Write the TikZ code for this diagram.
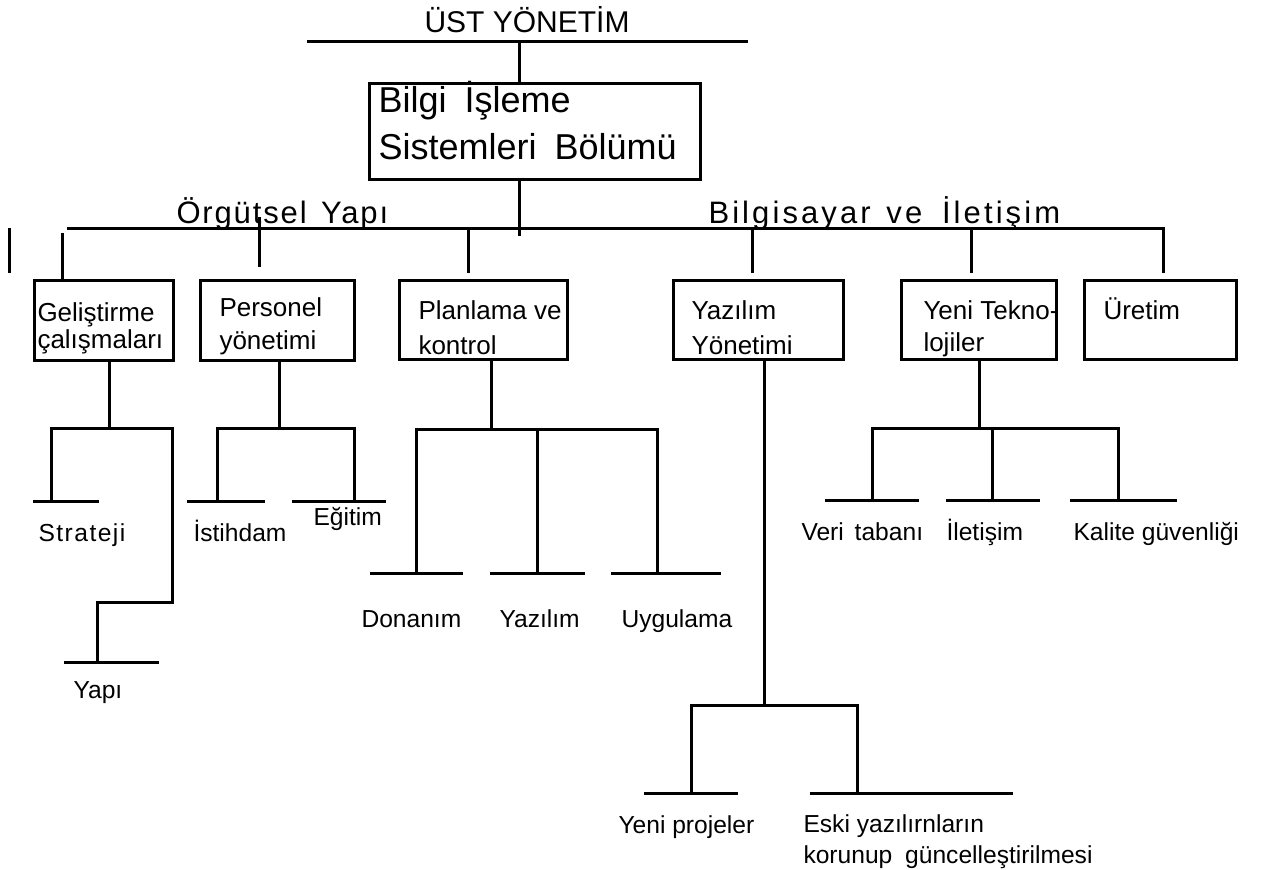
\documentclass[tikz,border=0pt]{standalone}
\usepackage{fontspec}
\setmainfont{Liberation Sans}
\newfontfamily\orgfont[LetterSpace=6]{Liberation Sans}
\newfontfamily\bilfont[LetterSpace=10]{Liberation Sans}
\usetikzlibrary{calc}
\begin{document}
\begin{tikzpicture}[x=0.5pt,y=-0.5pt,line width=1.5pt,
  unit/.style={draw, line width=1.5pt, inner sep=0pt, anchor=north west},
  boxtxt/.style={anchor=base west, inner sep=0pt, font=\fontsize{13}{15}\selectfont},
  leaftxt/.style={anchor=base west, inner sep=0pt, font=\fontsize{12.3}{15}\selectfont},
  head/.style={anchor=base west, inner sep=0pt},
  bigtxt/.style={anchor=base west, inner sep=0pt, font=\fontsize{18}{22}\selectfont},
]
\useasboundingbox (0,0) rectangle (1267,870);

% ---- top management and the department box
\node[anchor=base west, inner sep=0pt, font=\fontsize{15}{18}\selectfont] (ust) at (423,33) {ÜST YÖNETİM};
\coordinate (topL) at (307,42);
\coordinate (topR) at (748,42);
\coordinate (topM) at (519,42);
\draw (topL) -- (topR);

\node[unit, minimum width=165.5pt, minimum height=48pt] (bis) at (368,82) {};
\node[bigtxt] (bis1) at (377,113) {Bilgi\hspace{4pt} İşleme};
\node[bigtxt] (bis2) at (377,160) {Sistemleri\hspace{4pt} Bölümü};
\draw (topM) -- (bis.north -| topM);
\coordinate (hub) at (519,236);
\draw (bis.south -| hub) -- (hub);

% ---- main distribution bar with its two headings
\coordinate (barL) at (67,229);
\coordinate (barR) at (1163,229);
\node[head, font=\orgfont\fontsize{15.5}{18}\selectfont] (org) at (175,224) {Örgütsel\hspace{2pt} Yapı};
\node[head, font=\bilfont\fontsize{15.5}{18}\selectfont] (bil) at (707,224) {Bilgisayar\hspace{2pt} ve\hspace{4pt} İletişim};

\coordinate (mk1) at (9,228);
\coordinate (mk2) at (9,273);
\draw (mk1) -- (mk2);

% ---- second level units
\node[unit, minimum width=69.5pt, minimum height=40pt] (gel) at (33,279) {};
\node[unit, minimum width=77pt, minimum height=40pt] (per) at (199,279) {};
\node[unit, minimum width=84pt, minimum height=39.5pt] (pla) at (398,279) {};
\node[unit, minimum width=85pt, minimum height=39.5pt] (yaz) at (672,279) {};
\node[unit, minimum width=77.5pt, minimum height=39.5pt] (yen) at (900,279) {};
\node[unit, minimum width=76pt, minimum height=39.5pt] (ure) at (1083,279) {};

\node[boxtxt] (gel1) at (36,322) {Geliştirme};
\node[boxtxt] (gel2) at (36,349) {çalışmaları};
\node[boxtxt] (per1) at (218,317) {Personel};
\node[boxtxt] (per2) at (218,350) {yönetimi};
\node[boxtxt] (pla1) at (417,320) {Planlama ve};
\node[boxtxt] (pla2) at (417,355) {kontrol};
\node[boxtxt] (yaz1) at (690,320) {Yazılım};
\node[boxtxt] (yaz2) at (690,355) {Yönetimi};
\node[boxtxt] (yen1) at (922,320) {Yeni Tekno-};
\node[boxtxt] (yen2) at (922,352) {lojiler};
\node[boxtxt] (ure1) at (1102,320) {Üretim};

\draw (barL) -- (barR) -- ($(barR |- ure.north)+(0,-6)$);
\coordinate (dGel) at (62,233);
\coordinate (dPer) at (259,217);
\coordinate (dPla) at (468,229);
\coordinate (dYaz) at (752,229);
\coordinate (dYen) at (971,229);
\draw (dGel) -- (dGel |- gel.north);
\draw (dPer) -- ($(dPer |- per.north)+(0,-12)$);
\draw (dPla) -- ($(dPla |- pla.north)+(0,-6)$);
\draw (dYaz) -- ($(dYaz |- yaz.north)+(0,-6)$);
\draw (dYen) -- ($(dYen |- yen.north)+(0,-6)$);

% ---- Geliştirme çalışmaları
\coordinate (g0) at (109,429);
\coordinate (gL) at (51,429);
\coordinate (gR) at (172,429);
\coordinate (gA) at (51,502);
\coordinate (gB) at (172,602);
\coordinate (gK) at (97,602);
\coordinate (gC) at (97,662);
\draw (gel.south -| g0) -- (g0);
\draw (gA) -- (gL) -- (gR) -- (gB) -- (gK) -- (gC);
\coordinate (s1) at (33,502); \coordinate (s2) at (99,502);
\coordinate (y1) at (64,662); \coordinate (y2) at (159,662);
\draw (s1) -- (s2);
\draw (y1) -- (y2);
\node[leaftxt, font=\orgfont\fontsize{12.3}{15}\selectfont] (str) at (37,542) {Strateji};
\node[leaftxt] (yap) at (72,698) {Yapı};

% ---- Personel yönetimi
\coordinate (p0) at (279,429);
\coordinate (pL) at (217,429);
\coordinate (pR) at (354,429);
\coordinate (pA) at (217,502);
\coordinate (pB) at (354,502);
\draw (per.south -| p0) -- (p0);
\draw (pA) -- (pL) -- (pR) -- (pB);
\coordinate (i1) at (187,502); \coordinate (i2) at (265,502);
\coordinate (e1) at (292,502); \coordinate (e2) at (386,502);
\draw (i1) -- (i2);
\draw (e1) -- (e2);
\node[leaftxt] (ist) at (192,542) {İstihdam};
\node[leaftxt] (egi) at (312,525) {Eğitim};

% ---- Planlama ve kontrol
\coordinate (q0) at (491,430);
\coordinate (qL) at (416,430);
\coordinate (qM) at (537,430);
\coordinate (qR) at (657,430);
\coordinate (qA) at (416,573);
\coordinate (qB) at (537,573);
\coordinate (qC) at (657,573);
\draw (pla.south -| q0) -- (q0);
\draw (qA) -- (qL) -- (qR) -- (qC);
\draw (qM) -- (qB);
\coordinate (d1) at (370,573); \coordinate (d2) at (463,573);
\coordinate (z1) at (490,573); \coordinate (z2) at (585,573);
\coordinate (u1) at (611,573); \coordinate (u2) at (721,573);
\draw (d1) -- (d2);
\draw (z1) -- (z2);
\draw (u1) -- (u2);
\node[leaftxt] (don) at (360,627) {Donanım};
\node[leaftxt] (yzl) at (498,627) {Yazılım};
\node[leaftxt] (uyg) at (620,627) {Uygulama};

% ---- Yazılım Yönetimi
\coordinate (w0) at (764,705);
\coordinate (wL) at (691,705);
\coordinate (wR) at (857,705);
\coordinate (wA) at (691,793);
\coordinate (wB) at (857,793);
\draw (yaz.south -| w0) -- (w0);
\draw (wA) -- (wL) -- (wR) -- (wB);
\coordinate (n1) at (644,793); \coordinate (n2) at (738,793);
\coordinate (o1) at (810,793); \coordinate (o2) at (1013,793);
\draw (n1) -- (n2);
\draw (o1) -- (o2);
\node[leaftxt] (ypr) at (617,833) {Yeni projeler};
\node[leaftxt] (esk1) at (802,832) {Eski yazılırnların};
\node[leaftxt] (esk2) at (802,863) {korunup\hspace{3pt} güncelleştirilmesi};

% ---- Yeni Teknolojiler
\coordinate (t0) at (979,429);
\coordinate (tL) at (872,429);
\coordinate (tM) at (992,429);
\coordinate (tR) at (1118,429);
\coordinate (tA) at (872,501);
\coordinate (tB) at (992,501);
\coordinate (tC) at (1118,501);
\draw (yen.south -| t0) -- (t0);
\draw (tA) -- (tL) -- (tR) -- (tC);
\draw (tM) -- (tB);
\coordinate (v1) at (825,501); \coordinate (v2) at (919,501);
\coordinate (l1) at (946,501); \coordinate (l2) at (1040,501);
\coordinate (k1) at (1070,501); \coordinate (k2) at (1177,501);
\draw (v1) -- (v2);
\draw (l1) -- (l2);
\draw (k1) -- (k2);
\node[leaftxt] (ver) at (800,540) {Veri\hspace{2pt} tabanı};
\node[leaftxt] (ilt) at (945,540) {İletişim};
\node[leaftxt] (kal) at (1072,540) {Kalite güvenliği};
\end{tikzpicture}
\end{document}
